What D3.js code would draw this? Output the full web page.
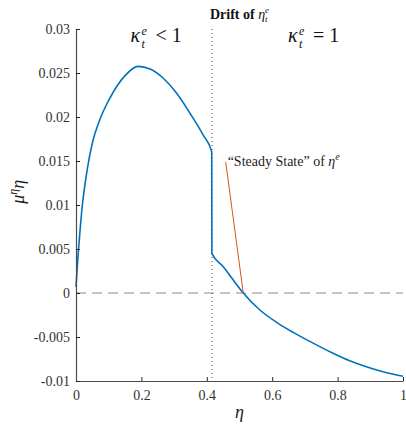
<!DOCTYPE html>
<html>
<head>
<meta charset="utf-8">
<script src="https://cdn.jsdelivr.net/npm/d3@7"></script>
<style>
  body { margin: 0; background: #fff; }
</style>
</head>
<body>
<div id="wrapper"></div>
<script>
// drift of eta
const etaLeft   = [0, 0.0067, 0.0128, 0.0189, 0.027, 0.035, 0.0504, 0.0708, 0.1, 0.125, 0.15, 0.19, 0.2266, 0.267, 0.308, 0.349, 0.389, 0.415];
const driftLeft = [0.0007, 0.0045, 0.0073, 0.0098, 0.0122, 0.0142, 0.0171, 0.0195, 0.0219, 0.0235, 0.0247, 0.02575, 0.02545, 0.0244, 0.0227, 0.0204, 0.01795, 0.01606];
const etaRight   = [0.4155, 0.4504, 0.481, 0.5115, 0.5624, 0.6134, 0.664, 0.715, 0.786, 0.837, 0.888, 0.939, 1.0];
const driftRight = [0.00451, 0.00299, 0.00148, 0, -0.00193, -0.00333, -0.00447, -0.0055, -0.00685, -0.0077, -0.00837, -0.00894, -0.00945];
const kinkEta = 0.416;
const steadyEta = 0.5115;
const noteAnchor = [0.4577, 0.01492];
const xTicks = [0, 0.2, 0.4, 0.6, 0.8, 1];
const yTicks = [-0.01, -0.005, 0, 0.005, 0.01, 0.015, 0.02, 0.025, 0.03];

const FONT = "'Liberation Serif', 'DejaVu Serif', serif";

const dimension = {
    width: 406,
    height: 425,
    margin: { top: 29, left: 76, bottom: 44, right: 3 }
};
dimension.boundedWidth = dimension.width - dimension.margin.left - dimension.margin.right;
dimension.boundedHeight = dimension.height - dimension.margin.top - dimension.margin.bottom;

const svg = d3.select("#wrapper")
    .append("svg")
    .attr("width", dimension.width)
    .attr("height", dimension.height)
    .attr("font-family", FONT);

const bounded = svg.append("g")
    .attr("transform", `translate(${dimension.margin.left},${dimension.margin.top})`);

const xScaler = d3.scaleLinear().domain([0, 1]).range([0, dimension.boundedWidth]);
const yScaler = d3.scaleLinear().domain([-0.01, 0.03]).range([dimension.boundedHeight, 0]);

// zero line
bounded.append("line")
    .attr("x1", 0).attr("x2", dimension.boundedWidth)
    .attr("y1", yScaler(0)).attr("y2", yScaler(0))
    .attr("stroke", "#8a8a8a")
    .attr("stroke-width", 1)
    .attr("stroke-dasharray", "10 6");

// regime boundary
bounded.append("line")
    .attr("x1", xScaler(kinkEta)).attr("x2", xScaler(kinkEta))
    .attr("y1", 0).attr("y2", dimension.boundedHeight)
    .attr("stroke", "#444")
    .attr("stroke-width", 1)
    .attr("stroke-dasharray", "1 3");

// curve
const lineGen = d3.line()
    .x(d => xScaler(d[0]))
    .y(d => yScaler(d[1]))
    .curve(d3.curveMonotoneX);
const leftPts = etaLeft.map((e, i) => [e, driftLeft[i]]);
const rightPts = etaRight.map((e, i) => [e, driftRight[i]]);
bounded.append("path")
    .datum(leftPts.concat(rightPts))
    .attr("fill", "none")
    .attr("stroke", "#0072BD")
    .attr("stroke-width", 1.6)
    .attr("d", lineGen);

// annotation
bounded.append("line")
    .attr("x1", xScaler(noteAnchor[0])).attr("y1", yScaler(noteAnchor[1]))
    .attr("x2", xScaler(steadyEta)).attr("y2", yScaler(0))
    .attr("stroke", "#D95319")
    .attr("stroke-width", 1);

const note = bounded.append("text")
    .attr("x", xScaler(noteAnchor[0]) + 2)
    .attr("y", yScaler(noteAnchor[1]) + 4)
    .attr("font-size", "14px")
    .attr("fill", "#222");
note.append("tspan").text("\u201CSteady State\u201D of ");
note.append("tspan").attr("font-style", "italic").text("\u03B7");
note.append("tspan").attr("font-style", "italic").attr("font-size", "10px").attr("dy", -6).text("e");

// axes
const fmt = d => d3.format("~g")(d).replace("\u2212", "-");
const xAxisGen = d3.axisBottom(xScaler)
    .tickValues(xTicks)
    .tickFormat(fmt)
    .tickSizeInner(-4).tickSizeOuter(0).tickPadding(9);
const yAxisGen = d3.axisLeft(yScaler)
    .tickValues(yTicks)
    .tickFormat(fmt)
    .tickSizeInner(-4).tickSizeOuter(0).tickPadding(6);

const xAxis = bounded.append("g")
    .attr("transform", `translate(0,${dimension.boundedHeight})`)
    .call(xAxisGen);
const yAxis = bounded.append("g").call(yAxisGen);

[xAxis, yAxis].forEach(a => {
    a.attr("font-family", FONT).attr("font-size", "14px");
    a.select(".domain").attr("stroke", "#4d4d4d").attr("stroke-width", 1.2);
    a.selectAll(".tick line").attr("stroke", "#262626");
    a.selectAll(".tick text").attr("fill", "#333");
});

// title
const title = svg.append("text")
    .attr("x", dimension.margin.left + dimension.boundedWidth / 2)
    .attr("y", 19)
    .attr("text-anchor", "middle")
    .attr("font-size", "14px")
    .attr("font-weight", "bold")
    .attr("fill", "#111");
title.append("tspan").text("Drift of ");
title.append("tspan").attr("font-style", "italic").attr("font-weight", "normal").text("\u03B7");
title.append("tspan").attr("font-style", "italic").attr("font-weight", "normal").attr("font-size", "9px").attr("dy", -6).text("e");
title.append("tspan").attr("font-style", "italic").attr("font-weight", "normal").attr("font-size", "9px").attr("dx", -4).attr("dy", 9).text("t");

// regime labels: kappa with stacked super/subscript drawn as separate texts
function kappaLabel(xEta, rel) {
    const g = bounded.append("g")
        .attr("transform", `translate(${xScaler(xEta) - 29},13)`)
        .attr("fill", "#111");
    g.append("text").attr("font-size", "20px").attr("font-style", "italic").text("\u03BA");
    g.append("text").attr("x", 11).attr("y", -7).attr("font-size", "12px").attr("font-style", "italic").text("e");
    g.append("text").attr("x", 11).attr("y", 6).attr("font-size", "12px").attr("font-style", "italic").text("t");
    g.append("text").attr("x", 25).attr("font-size", "20px").text(rel + " 1");
}
kappaLabel(0.255, "<");
kappaLabel(0.737, "=");

// axis labels
svg.append("text")
    .attr("x", dimension.margin.left + dimension.boundedWidth / 2)
    .attr("y", 418)
    .attr("text-anchor", "middle")
    .attr("font-size", "18px")
    .attr("font-style", "italic")
    .attr("fill", "#222")
    .text("\u03B7");

const yLab = svg.append("text")
    .attr("transform", `translate(24,${dimension.margin.top + yScaler(0.0115)}) rotate(-90)`)
    .attr("text-anchor", "middle")
    .attr("font-size", "18px")
    .attr("font-style", "italic")
    .attr("fill", "#222");
yLab.append("tspan").text("\u03BC");
yLab.append("tspan").attr("font-size", "12px").attr("dy", -7).text("\u03B7");
yLab.append("tspan").attr("dy", 7).text("\u03B7");
</script>
</body>
</html>
